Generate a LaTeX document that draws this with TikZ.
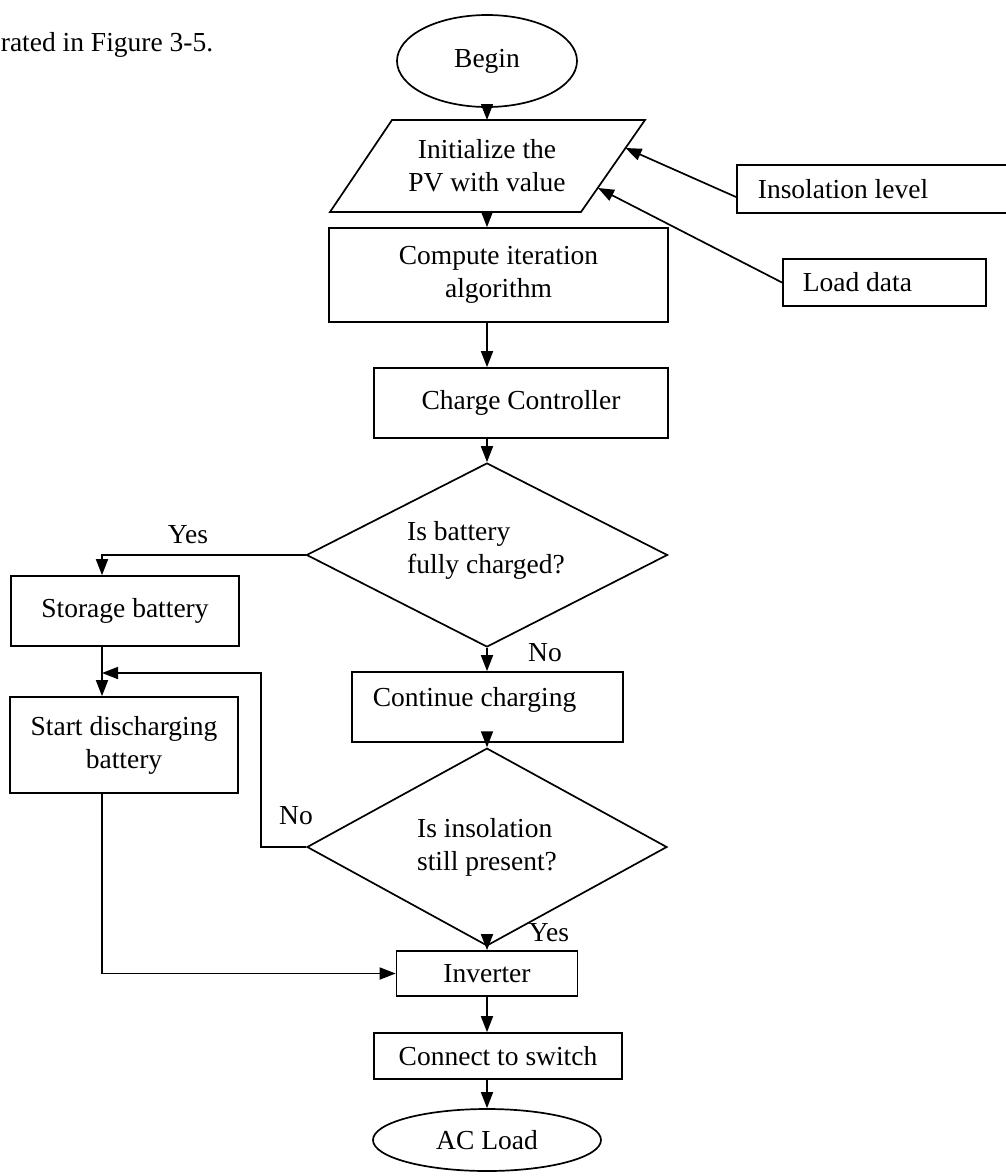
\documentclass[tikz,border=0pt]{standalone}
\usepackage{fontspec}
\setmainfont{Liberation Serif}
\usetikzlibrary{shapes.geometric,arrows.meta,calc}
\begin{document}
\begin{tikzpicture}[x=1pt,y=-1pt,line width=1.7pt,
  every node/.style={font=\fontsize{27.5}{33}\selectfont},
  box/.style={draw,inner sep=0pt,align=center},
  oval/.style={draw,ellipse,inner sep=0pt},
  dia/.style={draw,diamond,inner sep=0pt},
  lbl/.style={anchor=base},
  arr/.style={-{Triangle[length=16pt,width=12pt]}}]
\useasboundingbox (0,0) rectangle (1005,1176);

\node[anchor=base west,inner sep=0pt] (cap) at (0,51) {rated in Figure 3-5.};

% main column
\coordinate (cx) at (487,0);
\node[oval,minimum width=180pt,minimum height=92pt] (begin) at (487,61) {Begin};

\coordinate (pTL) at (392,120);
\coordinate (pTR) at (645,120);
\coordinate (pBR) at (581,212);
\coordinate (pBL) at (330,212);
\coordinate (pTop) at (487,120);
\coordinate (pBot) at (487,212);
\coordinate (pIns) at (625.5,148);
\coordinate (pLd) at (598,188);
\draw (pTL) -- (pTR) -- (pBR) -- (pBL) -- cycle;
\node[align=center] (init) at (487,166) {Initialize the\\PV with value};

\node[box,minimum width=339pt,minimum height=94pt] (comp) at (498.5,275) {Compute iteration\\algorithm};
\node[box,minimum width=294pt,minimum height=70pt] (cc) at (521,403) {Charge Controller};
\node[dia,minimum width=361pt,minimum height=184pt] (d1) at (487,555) {};
\node[align=left] (d1t) at (486,550) {\mbox{Is battery}\\\mbox{fully charged?}};
\node[box,minimum width=271pt,minimum height=70pt] (cont) at (487.5,707) {};
\node[anchor=west,inner sep=0pt] (contt) at (372,700) {\mbox{Continue charging}};
\node[dia,minimum width=360pt,minimum height=160pt,align=left] (d2) at (487,847) {\mbox{Is insolation}\\\mbox{still present?}};
\node[box,minimum width=181pt,minimum height=45pt] (inv) at (487,973.5) {Inverter};
\node[box,minimum width=248pt,minimum height=46pt] (conn) at (498,1056) {Connect to switch};
\node[oval,minimum width=228pt,minimum height=62pt] (acl) at (487,1140) {AC Load};

% inputs
\node[box,anchor=west,minimum width=276pt,minimum height=48pt] (ins) at (736,189) {};
\node[anchor=west,inner sep=0pt] (inst) at (757,189) {\mbox{Insolation level}};
\node[box,anchor=west,minimum width=203pt,minimum height=47pt] (ld) at (782,282.5) {};
\node[anchor=west,inner sep=0pt] (ldt) at (802,282.5) {\mbox{Load data}};

% left column
\coordinate (lx) at (102,0);
\coordinate (loop) at (261,673);
\node[box,minimum width=228pt,minimum height=70pt] (sb) at (125,611) {Storage battery};
\node[box,minimum width=228pt,minimum height=96pt] (sd) at (124,745) {Start discharging\\battery};

% labels
\node[lbl] (yes1) at (188,543) {Yes};
\node[lbl] (no1) at (545,661) {No};
\node[lbl] (no2) at (296,824) {No};
\node[lbl] (yes2) at (549,941) {Yes};

% connectors
\draw[arr] (begin.south) -- (pTop);
\draw[arr] (pBot) -- (pBot |- comp.north);
\draw[arr] (cx |- comp.south) -- (cx |- cc.north);
\draw[arr] (cx |- cc.south) -- (d1.north);
\draw[arr] (d1.south) -- (cx |- cont.north);
\draw[arr] (cx |- cont.south) -- (d2.north);
\draw[arr] (d2.south) -- (cx |- inv.north);
\draw[arr] (cx |- inv.south) -- (cx |- conn.north);
\draw[arr] (cx |- conn.south) -- (acl.north);

\draw[arr] ([yshift=-8pt]ins.west) -- (pIns);
\draw[arr] (ld.west) -- (pLd);

\draw[arr] (d1.west) -- (d1.west -| lx) -- (lx |- sb.north);
\draw[arr] (lx |- sb.south) -- (lx |- sd.north);
\draw[arr] (d2.west) -| (loop) -- (loop -| lx);
\draw[arr] (lx |- sd.south) |- (inv.west);
\end{tikzpicture}
\end{document}
